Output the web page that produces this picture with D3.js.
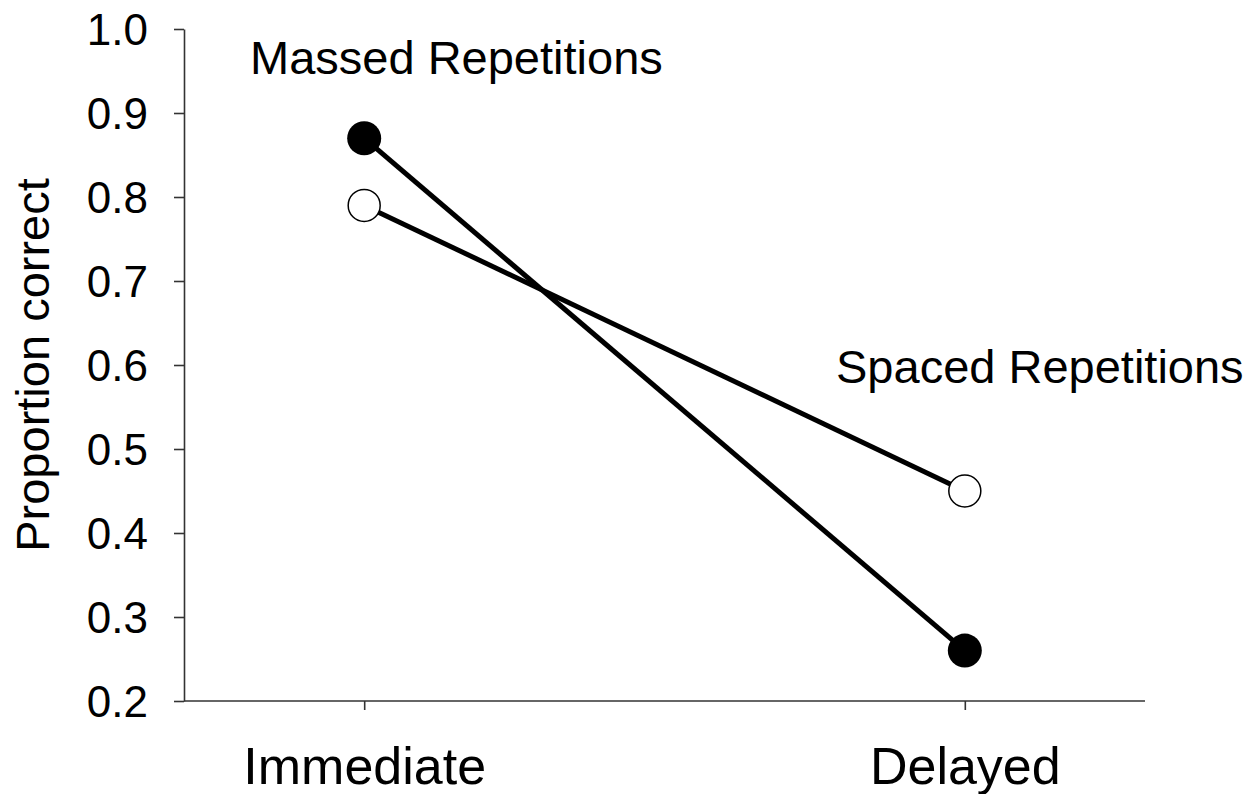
<!DOCTYPE html>
<html>
<head>
<meta charset="utf-8">
<title>Proportion correct</title>
<style>
  body { margin: 0; background: #fff; }
  svg { display: block; font-family: "Liberation Sans", Arial, sans-serif; }
</style>
</head>
<body>
<svg id="chart" width="1255" height="794"></svg>
<script src="https://d3js.org/d3.v7.min.js"></script>
<script>
// data
const conditions = ["Immediate", "Delayed"];
const massed = [0.87, 0.26];
const spaced = [0.79, 0.45];
const yTicks = [0.2, 0.3, 0.4, 0.5, 0.6, 0.7, 0.8, 0.9, 1.0];

const svg = d3.select("#chart");

const x = d3.scalePoint()
  .domain(conditions)
  .range([184, 1145])
  .padding(0.3);

const y = d3.scaleLinear()
  .domain([0.2, 1.0])
  .range([701, 29]);

// y axis
const yAxis = svg.append("g")
  .attr("transform", "translate(184,0)")
  .call(d3.axisLeft(y).tickValues(yTicks).tickFormat(d3.format(".1f"))
    .tickSize(10).tickSizeOuter(0).tickPadding(26));
yAxis.select(".domain").attr("stroke", "#333").attr("stroke-width", 1.6);
yAxis.selectAll(".tick line").attr("stroke", "#333").attr("stroke-width", 1.6);
yAxis.selectAll(".tick text")
  .attr("font-size", 44)
  .attr("font-family", "Liberation Sans, Arial, sans-serif")
  .attr("fill", "#000")
  .attr("dy", "0.36em");

// x axis
const xAxis = svg.append("g")
  .attr("transform", "translate(0,701)")
  .call(d3.axisBottom(x).tickSize(9).tickSizeOuter(0).tickPadding(37));
xAxis.select(".domain").attr("stroke", "#333").attr("stroke-width", 1.6)
  .attr("d", "M184,0H1145");
xAxis.selectAll(".tick line").attr("stroke", "#333").attr("stroke-width", 1.6);
xAxis.selectAll(".tick text")
  .attr("font-size", 52)
  .attr("font-family", "Liberation Sans, Arial, sans-serif")
  .attr("fill", "#000");

// y label
svg.append("text")
  .attr("transform", "translate(49,365) rotate(-90)")
  .attr("text-anchor", "middle")
  .attr("font-size", 47)
  .text("Proportion correct");

const line = d3.line()
  .x((d, i) => x(conditions[i]))
  .y(d => y(d));

[massed, spaced].forEach(series => {
  svg.append("path")
    .datum(series)
    .attr("d", line)
    .attr("fill", "none")
    .attr("stroke", "#000")
    .attr("stroke-width", 5);
});

svg.selectAll(".massed")
  .data(massed)
  .enter()
  .append("circle")
  .attr("class", "massed")
  .attr("cx", (d, i) => x(conditions[i]))
  .attr("cy", d => y(d))
  .attr("r", 17)
  .attr("fill", "#000");

svg.selectAll(".spaced")
  .data(spaced)
  .enter()
  .append("circle")
  .attr("class", "spaced")
  .attr("cx", (d, i) => x(conditions[i]))
  .attr("cy", d => y(d))
  .attr("r", 16)
  .attr("fill", "#fff")
  .attr("stroke", "#000")
  .attr("stroke-width", 1.5);

// labels
svg.append("text")
  .attr("x", 250)
  .attr("y", 74)
  .attr("font-size", 47)
  .text("Massed Repetitions");

svg.append("text")
  .attr("x", 836)
  .attr("y", 383)
  .attr("font-size", 47)
  .text("Spaced Repetitions");
</script>
</body>
</html>
